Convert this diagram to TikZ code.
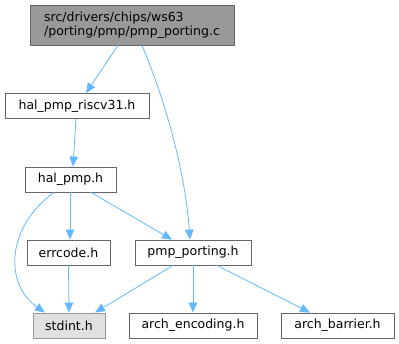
\documentclass[tikz,border=0pt]{standalone}
\usepackage{fontspec}
\setmainfont{DejaVu Sans}
\usetikzlibrary{arrows.meta}
\definecolor{edgeblue}{HTML}{63B8FF}
\definecolor{bordergray}{HTML}{666666}
\definecolor{topfill}{HTML}{999999}
\definecolor{sysfill}{HTML}{E0E0E0}
\definecolor{sysborder}{HTML}{999999}
\tikzset{
  file/.style={draw=bordergray, fill=white, line width=0.8pt, inner sep=0pt,
    minimum height=25pt, font=\fontsize{12.5}{14.5}\selectfont, text=black},
  topfile/.style={file, fill=topfill, minimum height=40pt, align=left},
  sysfile/.style={file, draw=sysborder, fill=sysfill},
  dep/.style={draw=edgeblue, line width=0.8pt, -{Triangle[length=10pt,width=8.5pt]}}
}
\begin{document}
\begin{tikzpicture}[x=1pt,y=-1pt]
\useasboundingbox (0,0) rectangle (399,344);
\node[topfile, minimum width=204pt] (top) at (132,25) {src/drivers/chips/ws63\\/porting/pmp/pmp\_porting.c};
\node[file, minimum width=144pt] (riscv) at (77,106) {hal\_pmp\_riscv31.h};
\node[file, minimum width=91pt] (hal) at (70.5,179.5) {hal\_pmp.h};
\node[file, minimum width=83pt] (err) at (68.5,252.5) {errcode.h};
\node[file, minimum width=116pt] (port) at (193,252.5) {pmp\_porting.h};
\node[sysfile, minimum width=72pt] (std) at (69,325.5) {stdint.h};
\node[file, minimum width=128pt] (enc) at (193,325.5) {arch\_encoding.h};
\node[file, minimum width=113pt] (bar) at (337.5,325.5) {arch\_barrier.h};

\draw[dep] ([xshift=-14pt]top.south) -- ([xshift=9pt]riscv.north);
\draw[dep] ([xshift=10pt]top.south) .. controls (165,100) and (185,170) .. ([xshift=-3pt]port.north);
\draw[dep] ([xshift=-1pt]riscv.south) -- ([xshift=2.5pt]hal.north);
\draw[dep] ([xshift=-0.5pt]hal.south) -- ([xshift=1.5pt]err.north);
\draw[dep] ([xshift=-16.5pt]hal.south) .. controls (5,228) and (5,285) .. ([xshift=-24pt]std.north);
\draw[dep] ([xshift=20.5pt]hal.south) -- ([xshift=-21pt]port.north);
\draw[dep] (err.south) -- (std.north);
\draw[dep] ([xshift=-20pt]port.south) -- ([xshift=26pt]std.north);
\draw[dep] (port.south) -- (enc.north);
\draw[dep] ([xshift=24pt]port.south) -- ([xshift=-27.5pt]bar.north);
\end{tikzpicture}
\end{document}
